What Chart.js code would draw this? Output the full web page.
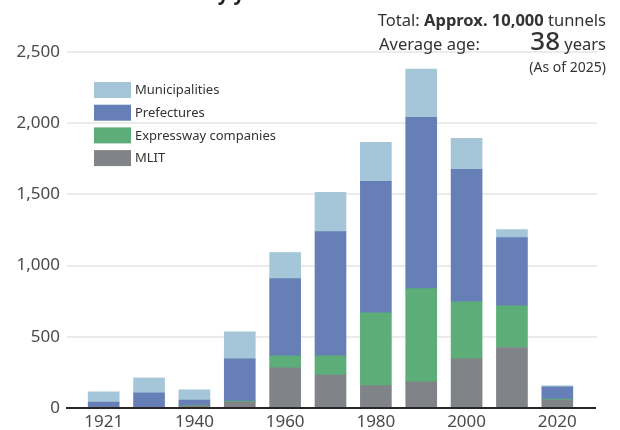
<!DOCTYPE html>
<html><head><meta charset="utf-8">
<script src="https://cdn.jsdelivr.net/npm/chart.js@4.4.1/dist/chart.umd.min.js"></script>
<style>html,body{margin:0;padding:0;background:#fff;}#wrap{width:620px;height:430px;position:relative;}</style>
</head><body><div id="wrap"><canvas id="c" width="620" height="430"></canvas></div>
<script>
const categories = ['1921','1930','1940','1950','1960','1970','1980','1990','2000','2010','2020'];
const tickLabels = ['1921','','1940','','1960','','1980','','2000','','2020'];
const yTicks = [0, 500, 1000, 1500, 2000, 2500];
const mlit         = [0,   0,  14,  42, 282, 232, 157,  183, 345, 425, 56];
const expressway   = [0,   0,   3,   7,  84, 134, 512,  655, 401, 293,  7];
const prefectures  = [42, 106, 39, 296, 542, 873, 923, 1204, 930, 479, 85];
const municipalities=[71, 105, 71, 190, 184, 275, 274,  338, 218,  56,  7];
const seriesNames = ['MLIT','Expressway companies','Prefectures','Municipalities'];
const seriesColors = ['#808488','#5dad78','#667fb6','#a4c6d8'];

const FONT = "'Noto Sans', 'Open Sans', sans-serif";

const extras = {
  id: 'extras',
  beforeDatasetsDraw(chart) {
    const ctx = chart.ctx, y = chart.scales.y;
    ctx.save();
    ctx.strokeStyle = '#ebebeb';
    ctx.lineWidth = 2;
    yTicks.forEach(v => {
      if (v === 0) return;
      const py = Math.round(y.getPixelForValue(v));
      ctx.beginPath(); ctx.moveTo(67, py); ctx.lineTo(597, py); ctx.stroke();
    });
    ctx.restore();
  },
  afterDatasetsDraw(chart) {
    const ctx = chart.ctx, y = chart.scales.y;
    ctx.save();
    ctx.strokeStyle = '#2b2523';
    ctx.lineWidth = 2;
    const py = y.getPixelForValue(0);
    ctx.beginPath(); ctx.moveTo(66, py); ctx.lineTo(596, py); ctx.stroke();
    ctx.restore();
  },
  afterDraw(chart) {
    const ctx = chart.ctx;
    ctx.save();
    // cropped title
    ctx.fillStyle = '#231f20';
    ctx.font = "bold 19px " + FONT;
    ctx.textBaseline = 'alphabetic';
    ctx.textAlign = 'left';
    ctx.fillText('Number of tunnels by year built', 22, -0.3);
    // legend
    const ds = chart.data.datasets;
    ctx.font = "13px " + FONT;
    ctx.textBaseline = 'middle';
    for (let i = 0; i < ds.length; i++) {
      const d = ds[ds.length - 1 - i];
      const top = 82 + i * 22.7;
      ctx.fillStyle = d.backgroundColor;
      ctx.fillRect(94, top, 37, 16);
      ctx.fillStyle = '#333';
      ctx.fillText(d.label, 135, top + 8.5);
    }
    // annotations
    ctx.textBaseline = 'alphabetic';
    ctx.fillStyle = '#333';
    ctx.textAlign = 'right';
    const right = 606;
    ctx.font = "16.5px " + FONT;
    const w3 = ctx.measureText(' tunnels').width;
    ctx.fillText(' tunnels', right, 26);
    ctx.font = "bold 16.5px " + FONT;
    const w2 = ctx.measureText('Approx. 10,000').width;
    ctx.fillText('Approx. 10,000', right - w3, 26);
    ctx.font = "16.5px " + FONT;
    ctx.fillText('Total: ', right - w3 - w2, 26);
    ctx.textAlign = 'left';
    ctx.fillText('Average age:', 379, 50);
    ctx.textAlign = 'right';
    ctx.fillText('years', right, 50);
    const wy = ctx.measureText(' years').width;
    ctx.font = "500 26px " + FONT;
    ctx.fillText('38', right - wy, 50);
    ctx.font = "14px " + FONT;
    ctx.fillText('(As of 2025)', right, 72);
    ctx.restore();
  }
};

new Chart(document.getElementById('c'), {
  type: 'bar',
  data: {
    labels: categories,
    datasets: [mlit, expressway, prefectures, municipalities].map((arr, i) => ({
      label: seriesNames[i],
      data: arr,
      backgroundColor: seriesColors[i],
      borderWidth: 0,
      barThickness: 31,
      stack: 's'
    }))
  },
  options: {
    responsive: false,
    animation: false,
    layout: { padding: { left: 0, right: 40, top: 52, bottom: 0 } },
    plugins: { legend: { display: false }, tooltip: { enabled: false } },
    scales: {
      x: {
        stacked: true,
        grid: { display: false, drawTicks: false },
        border: { display: false },
        afterFit(s) { s.height = 22; s.paddingLeft = 0; s.paddingRight = 0; },
        ticks: {
          autoSkip: false, maxRotation: 0, padding: 4,
          color: '#4a4a4a', font: { family: FONT, size: 17 },
          callback: (v, i) => tickLabels[i]
        }
      },
      y: {
        stacked: true, min: 0, max: 2500,
        grid: { display: false, drawTicks: false },
        border: { display: false },
        afterFit(s) { s.width = 81; s.paddingBottom = 0; s.paddingTop = 0; },
        afterBuildTicks(s) { s.ticks = yTicks.map(v => ({ value: v })); },
        ticks: {
          padding: 21, color: '#4a4a4a', font: { family: FONT, size: 17 },
          callback: v => v.toLocaleString('en-US')
        }
      }
    }
  },
  plugins: [extras]
});
</script></body></html>
